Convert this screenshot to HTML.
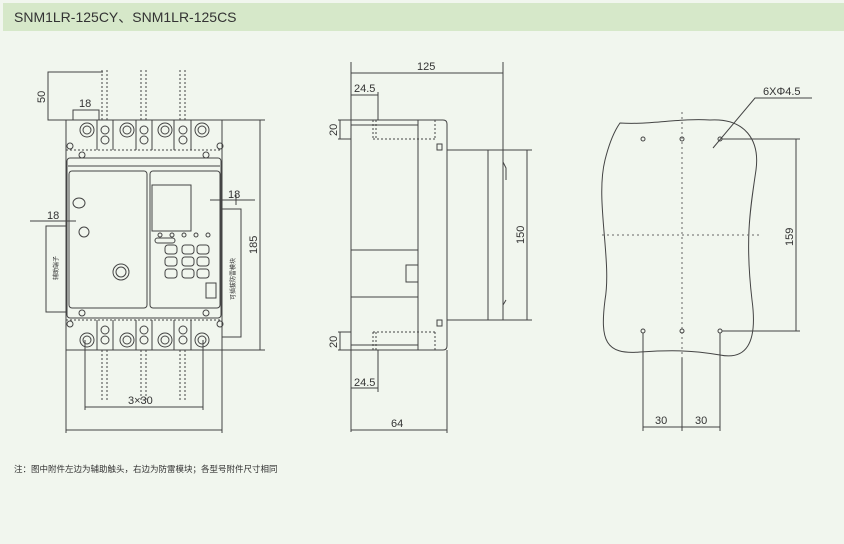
<!DOCTYPE html>
<html><head><meta charset="utf-8"><style>
html,body{margin:0;padding:0;width:844px;height:544px;background:#f1f6ee;overflow:hidden}
svg{display:block}
text{font-family:"Liberation Sans","Noto Sans CJK SC",sans-serif;fill:#333}
</style></head><body>
<svg width="844" height="544" viewBox="0 0 844 544" xmlns="http://www.w3.org/2000/svg">
<rect x="0" y="0" width="844" height="544" fill="#f1f6ee"/>
<rect x="3" y="3" width="841" height="28" fill="#d6e8c9"/>
<text x="14" y="22" font-size="14" fill="#444">SNM1LR-125CY、SNM1LR-125CS</text>

<g stroke="#444" stroke-width="1" fill="none">
<!-- FRONT VIEW -->
<rect x="66" y="120" width="156" height="230"/>
<line x1="66" y1="150" x2="222" y2="150" stroke-dasharray="2,2"/>
<line x1="66" y1="320" x2="222" y2="320" stroke-dasharray="2,2"/>
<rect x="67" y="158" width="154" height="160" rx="3"/>
<line x1="68" y1="166" x2="220" y2="166"/>
<rect x="69" y="171" width="78" height="137" rx="3"/>
<rect x="150" y="171" width="70" height="137" rx="3"/>
<rect x="152" y="185" width="39" height="46"/>
<ellipse cx="79" cy="203" rx="6" ry="5"/>
<ellipse cx="84" cy="232" rx="5" ry="5"/>
<circle cx="121" cy="272" r="8"/><circle cx="121" cy="272" r="5"/>
<rect x="155" y="238" width="20" height="5" rx="2.5"/>
<g>
<circle cx="160" cy="235" r="2"/><circle cx="172" cy="235" r="2"/><circle cx="184" cy="235" r="2"/><circle cx="196" cy="235" r="2"/><circle cx="208" cy="235" r="2"/>
<rect x="165" y="245" width="12" height="9" rx="3"/><rect x="182" y="245" width="12" height="9" rx="3"/><rect x="197" y="245" width="12" height="9" rx="3"/>
<rect x="165" y="257" width="12" height="9" rx="3"/><rect x="182" y="257" width="12" height="9" rx="3"/><rect x="197" y="257" width="12" height="9" rx="3"/>
<rect x="165" y="269" width="12" height="9" rx="3"/><rect x="182" y="269" width="12" height="9" rx="3"/><rect x="197" y="269" width="12" height="9" rx="3"/>
</g>
<rect x="206" y="283" width="10" height="15"/>
<g>
<circle cx="87" cy="130" r="7"/><circle cx="87" cy="130" r="4"/>
<circle cx="127" cy="130" r="7"/><circle cx="127" cy="130" r="4"/>
<circle cx="165" cy="130" r="7"/><circle cx="165" cy="130" r="4"/>
<circle cx="202" cy="130" r="7"/><circle cx="202" cy="130" r="4"/>
<circle cx="105" cy="130" r="4"/><circle cx="105" cy="140" r="4"/>
<circle cx="144" cy="130" r="4"/><circle cx="144" cy="140" r="4"/>
<circle cx="183" cy="130" r="4"/><circle cx="183" cy="140" r="4"/>
<line x1="97" y1="120" x2="97" y2="150"/><line x1="113" y1="120" x2="113" y2="150"/>
<line x1="136" y1="120" x2="136" y2="150"/><line x1="152" y1="120" x2="152" y2="150"/>
<line x1="174" y1="120" x2="174" y2="150"/><line x1="191" y1="120" x2="191" y2="150"/>
</g>
<circle cx="70" cy="146" r="3"/><circle cx="220" cy="146" r="3"/>
<circle cx="82" cy="155" r="3"/><circle cx="206" cy="155" r="3"/>
<circle cx="82" cy="313" r="3"/><circle cx="206" cy="313" r="3"/>
<circle cx="70" cy="324" r="3"/><circle cx="220" cy="324" r="3"/>
<g>
<circle cx="87" cy="340" r="7"/><circle cx="87" cy="340" r="4"/>
<circle cx="127" cy="340" r="7"/><circle cx="127" cy="340" r="4"/>
<circle cx="165" cy="340" r="7"/><circle cx="165" cy="340" r="4"/>
<circle cx="202" cy="340" r="7"/><circle cx="202" cy="340" r="4"/>
<circle cx="105" cy="330" r="4"/><circle cx="105" cy="340" r="4"/>
<circle cx="144" cy="330" r="4"/><circle cx="144" cy="340" r="4"/>
<circle cx="183" cy="330" r="4"/><circle cx="183" cy="340" r="4"/>
<line x1="97" y1="320" x2="97" y2="350"/><line x1="113" y1="320" x2="113" y2="350"/>
<line x1="136" y1="320" x2="136" y2="350"/><line x1="152" y1="320" x2="152" y2="350"/>
<line x1="174" y1="320" x2="174" y2="350"/><line x1="191" y1="320" x2="191" y2="350"/>
</g>
<g stroke-dasharray="2,2">
<line x1="102" y1="70" x2="102" y2="120"/><line x1="107" y1="70" x2="107" y2="120"/>
<line x1="141" y1="70" x2="141" y2="120"/><line x1="146" y1="70" x2="146" y2="120"/>
<line x1="180" y1="70" x2="180" y2="120"/><line x1="185" y1="70" x2="185" y2="120"/>
<line x1="102" y1="350" x2="102" y2="400"/><line x1="107" y1="350" x2="107" y2="400"/>
<line x1="141" y1="350" x2="141" y2="400"/><line x1="146" y1="350" x2="146" y2="400"/>
<line x1="180" y1="350" x2="180" y2="400"/><line x1="185" y1="350" x2="185" y2="400"/>
</g>
<polyline points="103,72 48,72 48,120 66,120"/>
<polyline points="73,120 73,110 99,110 99,120"/>
<line x1="222" y1="120" x2="265" y2="120"/><line x1="222" y1="350" x2="265" y2="350"/>
<line x1="260" y1="120" x2="260" y2="350"/>
<line x1="30" y1="221" x2="76" y2="221"/>
<polyline points="66,226 46,226 46,312 66,312"/>
<line x1="210" y1="200" x2="255" y2="200"/>
<polyline points="222,209 241,209 241,337 222,337"/>
<line x1="236" y1="195" x2="236" y2="205"/>
<line x1="85" y1="340" x2="85" y2="410"/><line x1="203" y1="340" x2="203" y2="410"/>
<line x1="85" y1="407" x2="203" y2="407"/>
<line x1="66" y1="350" x2="66" y2="433"/><line x1="222" y1="350" x2="222" y2="433"/>
<line x1="66" y1="430" x2="222" y2="430"/>

<!-- SIDE VIEW -->
<line x1="351" y1="62" x2="351" y2="432"/>
<line x1="503" y1="62" x2="503" y2="150"/>
<line x1="351" y1="73" x2="503" y2="73"/>
<rect x="351" y="120" width="67" height="230"/>
<path d="M418 120 H443 Q447 120 447 124 V150 H489"/>
<path d="M418 350 H443 Q447 350 447 346 V320 H489"/>
<line x1="447" y1="150" x2="447" y2="320"/>
<rect x="488" y="150" width="15" height="170"/>
<path d="M503 150 V162 L506 168 V180"/>
<path d="M503 320 V305 L506 300"/>
<line x1="351" y1="250" x2="418" y2="250"/><line x1="351" y1="297" x2="418" y2="297"/>
<rect x="406" y="265" width="12" height="17"/>
<rect x="437" y="144" width="5" height="6"/><rect x="437" y="320" width="5" height="6"/>
<line x1="338" y1="120" x2="351" y2="120"/><line x1="338" y1="139" x2="351" y2="139"/>
<line x1="340" y1="120" x2="340" y2="139"/>
<line x1="338" y1="332" x2="351" y2="332"/><line x1="338" y1="350" x2="351" y2="350"/>
<line x1="340" y1="332" x2="340" y2="350"/>
<line x1="351" y1="95" x2="378" y2="95"/><line x1="378" y1="92" x2="378" y2="120"/>
<line x1="351" y1="388" x2="378" y2="388"/><line x1="378" y1="350" x2="378" y2="392"/>
<line x1="351" y1="125" x2="418" y2="125"/>
<line x1="351" y1="345" x2="418" y2="345"/>
<g stroke-dasharray="2,2">
<line x1="373" y1="120" x2="373" y2="139"/><line x1="376" y1="120" x2="376" y2="139"/>
<line x1="373" y1="139" x2="437" y2="139"/><line x1="435" y1="120" x2="435" y2="139"/>
<line x1="373" y1="332" x2="373" y2="350"/><line x1="376" y1="332" x2="376" y2="350"/>
<line x1="373" y1="332" x2="437" y2="332"/><line x1="435" y1="332" x2="435" y2="350"/>
</g>
<line x1="447" y1="350" x2="447" y2="433"/>
<line x1="351" y1="430" x2="447" y2="430"/>
<line x1="503" y1="150" x2="532" y2="150"/><line x1="503" y1="320" x2="532" y2="320"/>
<line x1="527" y1="150" x2="527" y2="320"/>

<!-- MOUNTING VIEW -->
<path d="M620 123 C650 125 680 118 710 120 C745 118 760 140 756 170 C750 210 745 240 752 300 C758 345 745 360 720 355 C690 350 670 350 640 352 C605 355 600 340 605 300 C612 260 595 200 605 160 C610 140 615 130 620 123 Z"/>
<circle cx="643" cy="139" r="2"/><circle cx="682" cy="139" r="2"/><circle cx="720" cy="139" r="2"/>
<circle cx="643" cy="331" r="2"/><circle cx="682" cy="331" r="2"/><circle cx="720" cy="331" r="2"/>
<g stroke-dasharray="2,3" stroke="#666">
<line x1="682" y1="112" x2="682" y2="358"/>
<line x1="602" y1="235" x2="762" y2="235"/>
</g>
<line x1="722" y1="139" x2="800" y2="139"/><line x1="722" y1="331" x2="800" y2="331"/>
<line x1="796" y1="139" x2="796" y2="331"/>
<polyline points="713,148 755,98 812,98"/>
<line x1="643" y1="333" x2="643" y2="431"/><line x1="682" y1="358" x2="682" y2="431"/><line x1="720" y1="333" x2="720" y2="431"/>
<line x1="643" y1="427" x2="720" y2="427"/>
</g>

<g font-size="11">
<text x="79" y="107">18</text>
<text x="47" y="219">18</text>
<text x="228" y="198">18</text>
<text x="128" y="404">3×30</text>
<text transform="translate(45,103) rotate(-90)">50</text>
<text transform="translate(257,254) rotate(-90)">185</text>
<text x="417" y="70">125</text>
<text x="354" y="92">24.5</text>
<text x="354" y="386">24.5</text>
<text x="391" y="427">64</text>
<text transform="translate(337,136) rotate(-90)">20</text>
<text transform="translate(337,348) rotate(-90)">20</text>
<text transform="translate(524,244) rotate(-90)">150</text>
<text transform="translate(793,246) rotate(-90)">159</text>
<text x="763" y="95">6XΦ4.5</text>
<text x="655" y="424">30</text>
<text x="695" y="424">30</text>
</g>
<g font-size="6">
<text transform="translate(58,280) rotate(-90)">辅助端子</text>
<text transform="translate(235,300) rotate(-90)">可插拔防雷模块</text>
</g>
<text x="14" y="472" font-size="8.5" fill="#555">注：图中附件左边为辅助触头，右边为防雷模块；各型号附件尺寸相同</text>
</svg>
</body></html>
